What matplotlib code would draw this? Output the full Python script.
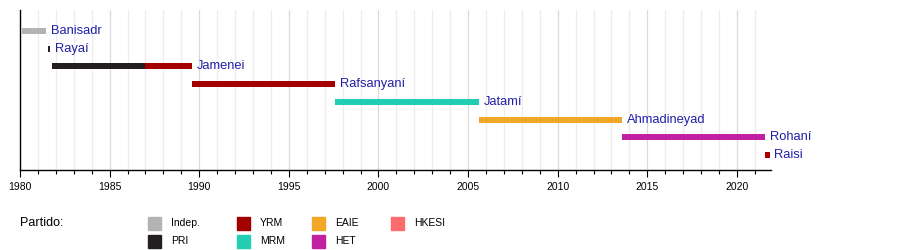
import matplotlib.pyplot as plt
from matplotlib.patches import Rectangle

plt.rcParams['font.family'] = ['Liberation Sans', 'DejaVu Sans']

# Presidents of Iran, terms as decimal years
names = ['Banisadr', 'Rayaí', 'Jamenei', 'Rafsanyaní', 'Jatamí',
         'Ahmadineyad', 'Rohaní', 'Raisi']
# (row, start, end, party)
segments = [
    (0, 1980.09, 1981.47, 'Indep.'),
    (1, 1981.58, 1981.66, 'PRI'),
    (2, 1981.78, 1987.0, 'PRI'),
    (2, 1987.0, 1989.59, 'YRM'),
    (3, 1989.59, 1997.59, 'YRM'),
    (4, 1997.59, 2005.59, 'MRM'),
    (5, 2005.59, 2013.59, 'EAIE'),
    (6, 2013.59, 2021.59, 'HET'),
    (7, 2021.59, 2021.82, 'YRM'),
]
parties = ['Indep.', 'PRI', 'YRM', 'MRM', 'EAIE', 'HET', 'HKESI']
party_colors = {
    'Indep.': '#b3b3b3',
    'PRI': '#231f20',
    'YRM': '#a50000',
    'MRM': '#22cdb3',
    'EAIE': '#f2a727',
    'HET': '#bf21a2',
    'HKESI': '#ff6a6e',
}
x_start, x_end = 1980, 2021.9

fig = plt.figure(figsize=(9, 2.5), dpi=100)
ax = fig.add_axes([20 / 900, 80 / 250, (771 - 20) / 900, 160 / 250])

# grid: every year light, every 5 years a bit darker
for yr in range(1981, 2022):
    ax.axvline(yr, color='#dadada' if yr % 5 == 0 else '#ececec', lw=0.9, zorder=0)

for row, s, e, p in segments:
    ax.barh(row, e - s, left=s, height=0.34, color=party_colors[p], zorder=2)

# name labels at the end of each row
for i, name in enumerate(names):
    end = max(e for r, s, e, p in segments if r == i)
    ax.text(end + 0.27, i, name, color='#2020a8', fontsize=9.3,
            va='center', ha='left', zorder=3)

ax.set_xlim(x_start, x_end)
ax.set_ylim(7.85, -1.19)
ax.spines['top'].set_visible(False)
ax.spines['right'].set_visible(False)
ax.spines['left'].set_linewidth(1)
ax.spines['bottom'].set_linewidth(1)
ax.set_yticks([])
ax.set_xticks(range(1980, 2021, 5))
ax.set_xticks(range(1980, 2022), minor=True)
ax.tick_params(axis='x', which='major', length=5, width=0.8, labelsize=7.5, pad=4)
ax.tick_params(axis='x', which='minor', length=3, width=0.8)

# legend
fig.text(20 / 900, 1 - 223 / 250, 'Partido:', fontsize=9, va='center', ha='left')
col_x = [148, 237, 312, 391]
row_y = [223, 241]
for k, p in enumerate(parties):
    cx = col_x[k // 2]
    cy = row_y[k % 2]
    fig.patches.append(Rectangle((cx / 900, 1 - (cy + 6.5) / 250), 13 / 900, 13 / 250,
                                 transform=fig.transFigure, color=party_colors[p]))
    fig.text((cx + 23) / 900, 1 - cy / 250, p, fontsize=7.5, va='center', ha='left')

fig.savefig('out.png', dpi=100)
